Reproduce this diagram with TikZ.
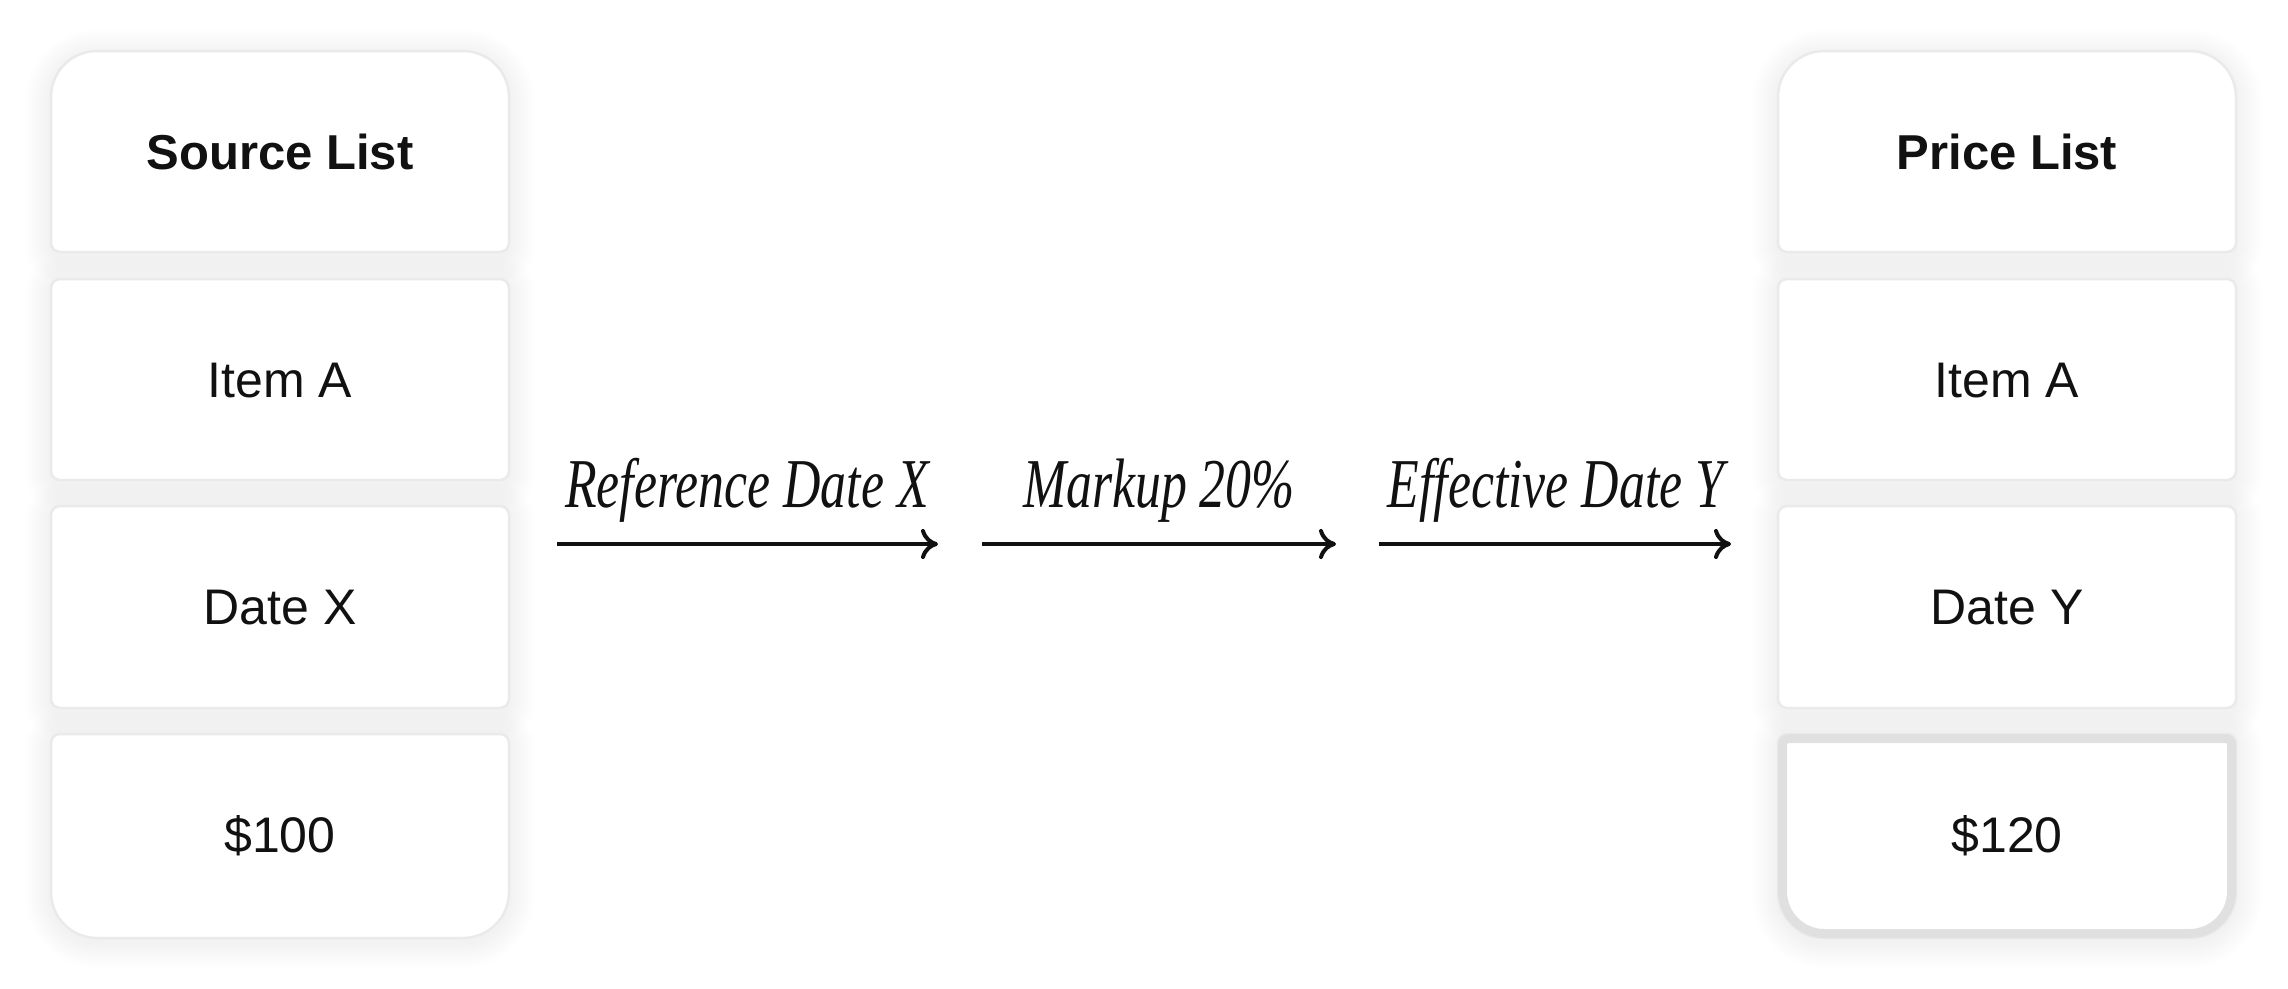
\documentclass[tikz,border=0pt]{standalone}
\usepackage{fontspec}
\setmainfont{Liberation Sans}
\newfontfamily\lblfont[FakeStretch=0.74]{Liberation Serif}
\usetikzlibrary{arrows.meta}
\definecolor{boxline}{HTML}{EAEAEA}
\definecolor{hiline}{HTML}{E0E0E0}
\definecolor{ink}{HTML}{111111}
\tikzset{
  cellbox/.style={fill=white, draw=boxline, line width=2.5pt},
  halo/.style={draw=black, line width=#1, draw opacity=0.004, line join=round},
  hibox/.style={draw=hiline, line width=9pt},
  headtxt/.style={font=\fontsize{49}{58}\selectfont\bfseries, text=ink, inner sep=0pt},
  celltxt/.style={font=\fontsize{50}{60}\selectfont, text=ink, inner sep=0pt},
  lbltxt/.style={font=\lblfont\itshape\fontsize{70}{80}\selectfont, text=ink, inner sep=0pt, anchor=base},
  flow/.style={line width=4pt, draw=ink, -{Computer Modern Rightarrow[length=17pt,width=30pt,line width=4pt]}}
}
% box outlines (x left, x right)
\newcommand\topcell[2]{(#1,151) [rounded corners=46pt] |- ({(#1+#2)/2},51) -| (#2,151) [rounded corners=9pt] |- ({(#1+#2)/2},252) -| (#1,151) -- cycle}
\newcommand\midcellA[2]{[rounded corners=9pt] (#1,279) rectangle (#2,480)}
\newcommand\midcellB[2]{[rounded corners=9pt] (#1,506) rectangle (#2,708)}
\newcommand\botcell[2]{(#1,835) [rounded corners=9pt] |- ({(#1+#2)/2},734) -| (#2,835) [rounded corners=46pt] |- ({(#1+#2)/2},938) -| (#1,835) -- cycle}
\begin{document}
\begin{tikzpicture}[x=1pt,y=-1pt]
\useasboundingbox (0,0) rectangle (2288,988);
\fill[white] (0,0) rectangle (2288,988);
% soft shadows
\begin{scope}[yshift=-4pt]
\foreach \xl/\xr in {51/509, 1778/2236}{
  \foreach \w in {4,8,...,52}{
    \path[halo=\w pt] \topcell{\xl}{\xr};
    \path[halo=\w pt] \midcellA{\xl}{\xr};
    \path[halo=\w pt] \midcellB{\xl}{\xr};
    \path[halo=\w pt] \botcell{\xl}{\xr};
  }
}
\end{scope}
% boxes
\foreach \xl/\xr in {51/509, 1778/2236}{
  \path[cellbox] \topcell{\xl}{\xr};
  \path[cellbox] \midcellA{\xl}{\xr};
  \path[cellbox] \midcellB{\xl}{\xr};
  \path[cellbox] \botcell{\xl}{\xr};
}
% highlighted result box
\draw[hibox] (1782.5,835) [rounded corners=6pt] |- (2007,738.5) -| (2231.5,835) [rounded corners=42pt] |- (2007,933.5) -| (1782.5,835) -- cycle;
% texts
\node[headtxt] (srchead) at (280,152) {Source List};
\node[celltxt] (srcitem) at (280,381) {Item A};
\node[celltxt] (srcdate) at (280,608) {Date X};
\node[celltxt] (srcprice) at (280,836) {\$100};
\node[headtxt] (dsthead) at (2007,152) {Price List};
\node[celltxt] (dstitem) at (2007,381) {Item A};
\node[celltxt] (dstdate) at (2007,608) {Date Y};
\node[celltxt] (dstprice) at (2007,836) {\$120};
% labels
\node[lbltxt] (lref) at (747,507) {Reference Date X};
\node[lbltxt] (lmark) at (1159,507) {Markup 20\%};
\node[lbltxt] (leff) at (1556,507) {Effective Date Y};
% arrows
\coordinate (a1s) at (557,544); \coordinate (a1e) at (938,544);
\coordinate (a2s) at (982,544); \coordinate (a2e) at (1336,544);
\coordinate (a3s) at (1379,544); \coordinate (a3e) at (1731,544);
\draw[flow] (a1s) -- (a1e);
\draw[flow] (a2s) -- (a2e);
\draw[flow] (a3s) -- (a3e);
\end{tikzpicture}
\end{document}
